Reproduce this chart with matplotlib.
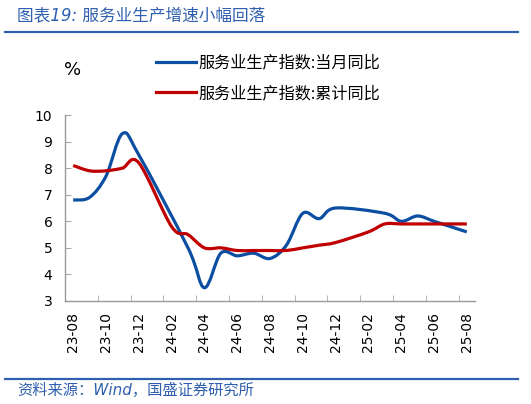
import numpy as np
import matplotlib
matplotlib.use("Agg")
import matplotlib.pyplot as plt
from matplotlib.path import Path
from matplotlib.patches import PathPatch
from matplotlib.lines import Line2D

plt.rcParams["font.family"] = ["DejaVu Sans", "Noto Sans CJK SC"]

# 月份（2024、2025年1月无数据，2月当月同比亦缺）
months = ["23-08", "23-09", "23-10", "23-11", "23-12", "24-01", "24-02", "24-03",
          "24-04", "24-05", "24-06", "24-07", "24-08", "24-09", "24-10", "24-11",
          "24-12", "25-01", "25-02", "25-03", "25-04", "25-05", "25-06", "25-07",
          "25-08"]
nan = np.nan
yoy_month = [6.8, 6.9, 7.7, 9.3, 8.5, nan, nan, 5.0, 3.5, 4.8, 4.7, 4.8, 4.6,
             5.1, 6.3, 6.1, 6.5, nan, nan, 6.3, 6.0, 6.2, 6.0, 5.8, 5.6]
yoy_cum = [8.1, 7.9, 7.9, 8.0, 8.2, nan, 5.8, 5.5, 5.0, 5.0, 4.9, 4.9, 4.9,
           4.9, 5.0, 5.1, 5.2, nan, 5.6, 5.9, 5.9, 5.9, 5.9, 5.9, 5.9]
names = ["服务业生产指数:当月同比", "服务业生产指数:累计同比"]

BLUE = "#0B4EA2"
RED = "#C00000"
RULE = "#2F5FAE"


def smooth_path(x, y):
    """平滑折线（类似 Excel 平滑线），缺失值直接跨过连接"""
    x = np.asarray(x, float); y = np.asarray(y, float)
    m = ~np.isnan(y)
    px, py = x[m], y[m]
    n = len(px)
    verts = [(px[0], py[0])]
    codes = [Path.MOVETO]
    for i in range(n - 1):
        a = i - 1 if i > 0 else i
        d = i + 2 if i + 2 < n else i + 1
        c1 = (px[i] + (px[i + 1] - px[a]) / 6, py[i] + (py[i + 1] - py[a]) / 6)
        c2 = (px[i + 1] - (px[d] - px[i]) / 6, py[i + 1] - (py[d] - py[i]) / 6)
        verts += [c1, c2, (px[i + 1], py[i + 1])]
        codes += [Path.CURVE4] * 3
    return Path(verts, codes)


fig = plt.figure(figsize=(5.31, 4.04), dpi=100)
ax = fig.add_axes([65 / 531, 103 / 404, 410 / 531, 186 / 404])

xs = np.arange(len(months))
for vals, col in [(yoy_month, BLUE), (yoy_cum, RED)]:
    ax.add_patch(PathPatch(smooth_path(xs, vals), fill=False, edgecolor=col,
                           lw=2.3, capstyle="butt", joinstyle="round", zorder=3))

ax.set_xlim(-0.5, len(months) - 0.5)
ax.set_ylim(3, 10)
ax.set_yticks(range(3, 11))
ax.set_xticks(xs[::2])
ax.set_xticklabels(months[::2], rotation=90)
ax.set_xticks(np.arange(1.5, len(months) - 1, 2), minor=True)
ax.tick_params(axis="x", which="major", length=0, pad=8, labelsize=10)
ax.tick_params(axis="x", which="minor", direction="in", length=4, color="#aaaaaa")
ax.tick_params(axis="y", direction="in", length=4, color="#aaaaaa", pad=9, labelsize=10)

for s in ["top", "right"]:
    ax.spines[s].set_visible(False)
for s in ["left", "bottom"]:
    ax.spines[s].set_color("#999999")
    ax.spines[s].set_linewidth(1.0)

# 图例
handles = [Line2D([0], [0], color=BLUE, lw=2.3), Line2D([0], [0], color=RED, lw=2.3)]
fig.legend(handles, names, loc="center left", bbox_to_anchor=(156 / 531, 1 - 78 / 404),
           frameon=False, handlelength=2.5, handletextpad=0.15,
           labelspacing=0.85, borderpad=0, borderaxespad=0,
           prop={"family": ["Noto Sans CJK SC"], "size": 11.6})

fig.text(64 / 531, 1 - 70 / 404, "%", fontsize=13, ha="left", va="center")

# 标题与来源
fig.text(17 / 531, 1 - 15 / 404, "图表19: 服务业生产增速小幅回落", color=RULE,
         fontsize=12, style="italic", ha="left", va="center")
fig.text(17 / 531, 1 - 390 / 404, "资料来源：Wind，国盛证券研究所", color=RULE,
         fontsize=11, style="italic", ha="left", va="center")
fig.add_artist(Line2D([5 / 531, 518 / 531], [1 - 32 / 404] * 2, color=RULE, lw=1.6,
                      transform=fig.transFigure))
fig.add_artist(Line2D([5 / 531, 518 / 531], [1 - 379 / 404] * 2, color=RULE, lw=1.6,
                      transform=fig.transFigure))

fig.savefig("out.png", dpi=100)
